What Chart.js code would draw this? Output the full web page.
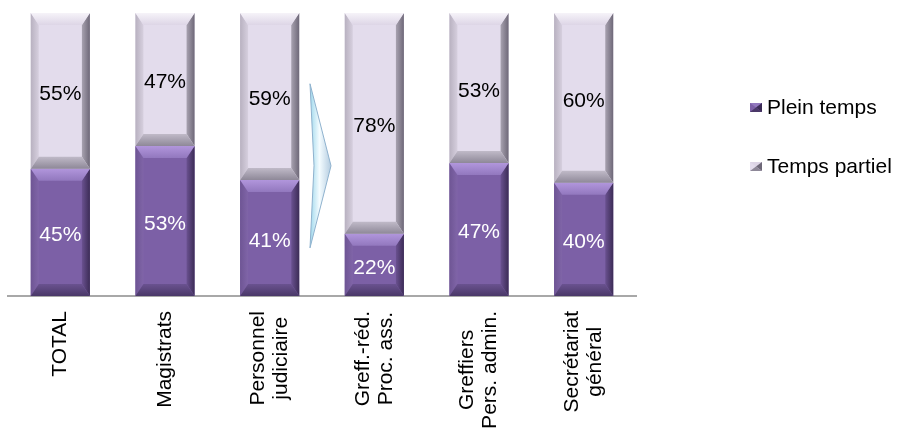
<!DOCTYPE html>
<html>
<head>
<meta charset="utf-8">
<script src="https://cdn.jsdelivr.net/npm/chart.js@4/dist/chart.umd.min.js"></script>
<style>
  html, body { margin: 0; padding: 0; background: #fff; }
  canvas { display: block; }
</style>
</head>
<body>
<canvas id="chart" width="897" height="429"></canvas>
<script>
// categories (multi-line labels) and shares in %
const categories = [
  ["TOTAL"],
  ["Magistrats"],
  ["Personnel", "judiciaire"],
  ["Greff.-réd.", "Proc. ass."],
  ["Greffiers", "Pers. admin."],
  ["Secrétariat", "général"]
];
const pleinTemps = [45, 53, 41, 22, 47, 40];
const tempsPartiel = [55, 47, 59, 78, 53, 60];

const FONT = '"Liberation Sans", Arial, sans-serif';

// bevel look for each series
const bevelStyles = [
  { top: ["#B196DC", "#9278BE"], left: ["#6E5594", "#8065A8"], right: ["#6A5190", "#3C2C56"], bottom: ["#6A5290", "#4A3868"], text: "#ffffff" },
  { top: ["#F6F3F9", "#DDD5E6"], left: ["#B8B1C0", "#D6CFDE"], right: ["#A8A2B0", "#6E6878"], bottom: ["#C0BAC8", "#8E8898"], text: "#000000" }
];

function grad(ctx, x0, y0, x1, y1, c) {
  const g = ctx.createLinearGradient(x0, y0, x1, y1);
  g.addColorStop(0, c[0]);
  g.addColorStop(1, c[1]);
  return g;
}

function poly(ctx, pts, fill) {
  ctx.beginPath();
  ctx.moveTo(pts[0][0], pts[0][1]);
  for (let i = 1; i < pts.length; i++) ctx.lineTo(pts[i][0], pts[i][1]);
  ctx.closePath();
  ctx.fillStyle = fill;
  ctx.fill();
}

const bevelPlugin = {
  id: "bevelBars",
  afterDatasetsDraw(chart) {
    const ctx = chart.ctx;
    const sx = 8, sy = 12;
    ctx.save();
    chart.data.datasets.forEach((ds, di) => {
      const st = bevelStyles[di];
      chart.getDatasetMeta(di).data.forEach((bar, i) => {
        const p = bar.getProps(["x", "y", "base", "width"], true);
        const l = p.x - p.width / 2, r = p.x + p.width / 2;
        const t = Math.min(p.y, p.base), b = Math.max(p.y, p.base);
        poly(ctx, [[l, t], [l + sx, t + sy], [l + sx, b - sy], [l, b]], grad(ctx, l, 0, l + sx, 0, st.left));
        poly(ctx, [[r, t], [r - sx, t + sy], [r - sx, b - sy], [r, b]], grad(ctx, r - sx, 0, r, 0, st.right));
        poly(ctx, [[l, t], [r, t], [r - sx, t + sy], [l + sx, t + sy]], grad(ctx, 0, t, 0, t + sy, st.top));
        poly(ctx, [[l, b], [r, b], [r - sx, b - sy], [l + sx, b - sy]], grad(ctx, 0, b - sy, 0, b, st.bottom));

        // value label
        ctx.font = "21px " + FONT;
        ctx.fillStyle = st.text;
        ctx.textAlign = "center";
        ctx.textBaseline = "middle";
        ctx.fillText(ds.data[i] + "%", p.x, (t + b) / 2 + 3);
      });
    });
    ctx.restore();
  },
  afterDraw(chart) {
    const ctx = chart.ctx;
    const xs = chart.scales.x, ys = chart.scales.y;
    ctx.save();

    // chevron between the third and fourth bars
    const mid = (xs.getPixelForValue(2) + xs.getPixelForValue(3)) / 2;
    const ax = mid - 12, tip = mid + 9;
    const yTop = ys.getPixelForValue(75), yTip = ys.getPixelForValue(46), yBot = ys.getPixelForValue(17);
    const g = ctx.createLinearGradient(ax, 0, tip, 0);
    g.addColorStop(0, "#9FD8EC");
    g.addColorStop(0.45, "#F4FCFF");
    g.addColorStop(1, "#B4CCE0");
    ctx.beginPath();
    ctx.moveTo(ax, yTop);
    ctx.lineTo(tip, yTip);
    ctx.lineTo(ax, yBot);
    ctx.lineTo(ax + 4, yTip);
    ctx.closePath();
    ctx.fillStyle = g;
    ctx.fill();
    ctx.strokeStyle = "#8FB2CE";
    ctx.lineWidth = 1;
    ctx.stroke();

    // rotated category labels, lines centred on each other
    ctx.font = "21px " + FONT;
    ctx.fillStyle = "#000";
    ctx.textAlign = "center";
    ctx.textBaseline = "middle";
    const top = chart.chartArea.bottom + 15;
    categories.forEach((lines, i) => {
      const w = Math.max(...lines.map(s => ctx.measureText(s).width));
      ctx.save();
      ctx.translate(xs.getPixelForValue(i), top + w / 2);
      ctx.rotate(-Math.PI / 2);
      lines.forEach((s, k) => ctx.fillText(s, 0, (k - (lines.length - 1) / 2) * 23));
      ctx.restore();
    });

    // legend
    const legendY = [107.5, 166.5];
    chart.data.datasets.forEach((ds, di) => {
      const st = bevelStyles[di];
      const mx = 750, mw = 12, mh = 9, my = legendY[di] - mh / 2;
      ctx.fillStyle = ds.backgroundColor;
      ctx.fillRect(mx, my, mw, mh);
      poly(ctx, [[mx, my], [mx + mw, my], [mx + mw / 2, my + mh / 2]], st.top[1]);
      poly(ctx, [[mx + mw, my], [mx + mw, my + mh], [mx + mw / 2, my + mh / 2]], st.right[1]);
      poly(ctx, [[mx, my + mh], [mx + mw, my + mh], [mx + mw / 2, my + mh / 2]], st.bottom[1]);
      ctx.fillStyle = "#000";
      ctx.textAlign = "left";
      ctx.fillText(ds.label, 767, legendY[di] + 0.5);
    });
    ctx.restore();
  }
};

new Chart(document.getElementById("chart"), {
  type: "bar",
  data: {
    labels: categories,
    datasets: [
      { label: "Plein temps", data: pleinTemps, backgroundColor: "#7C60A6" },
      { label: "Temps partiel", data: tempsPartiel, backgroundColor: "#E3DCEC" }
    ]
  },
  options: {
    responsive: false,
    animation: false,
    layout: { padding: { left: 8, right: 261, top: 13, bottom: 0 } },
    datasets: { bar: { categoryPercentage: 1, barPercentage: 0.565 } },
    plugins: { legend: { display: false }, tooltip: { enabled: false } },
    scales: {
      x: {
        stacked: true,
        grid: { display: false },
        ticks: { display: false },
        border: { display: true, color: "#A8A8A8", width: 2 },
        afterFit(scale) { scale.height = 133; }
      },
      y: { stacked: true, display: false, min: 0, max: 100 }
    }
  },
  plugins: [bevelPlugin]
});
</script>
</body>
</html>
